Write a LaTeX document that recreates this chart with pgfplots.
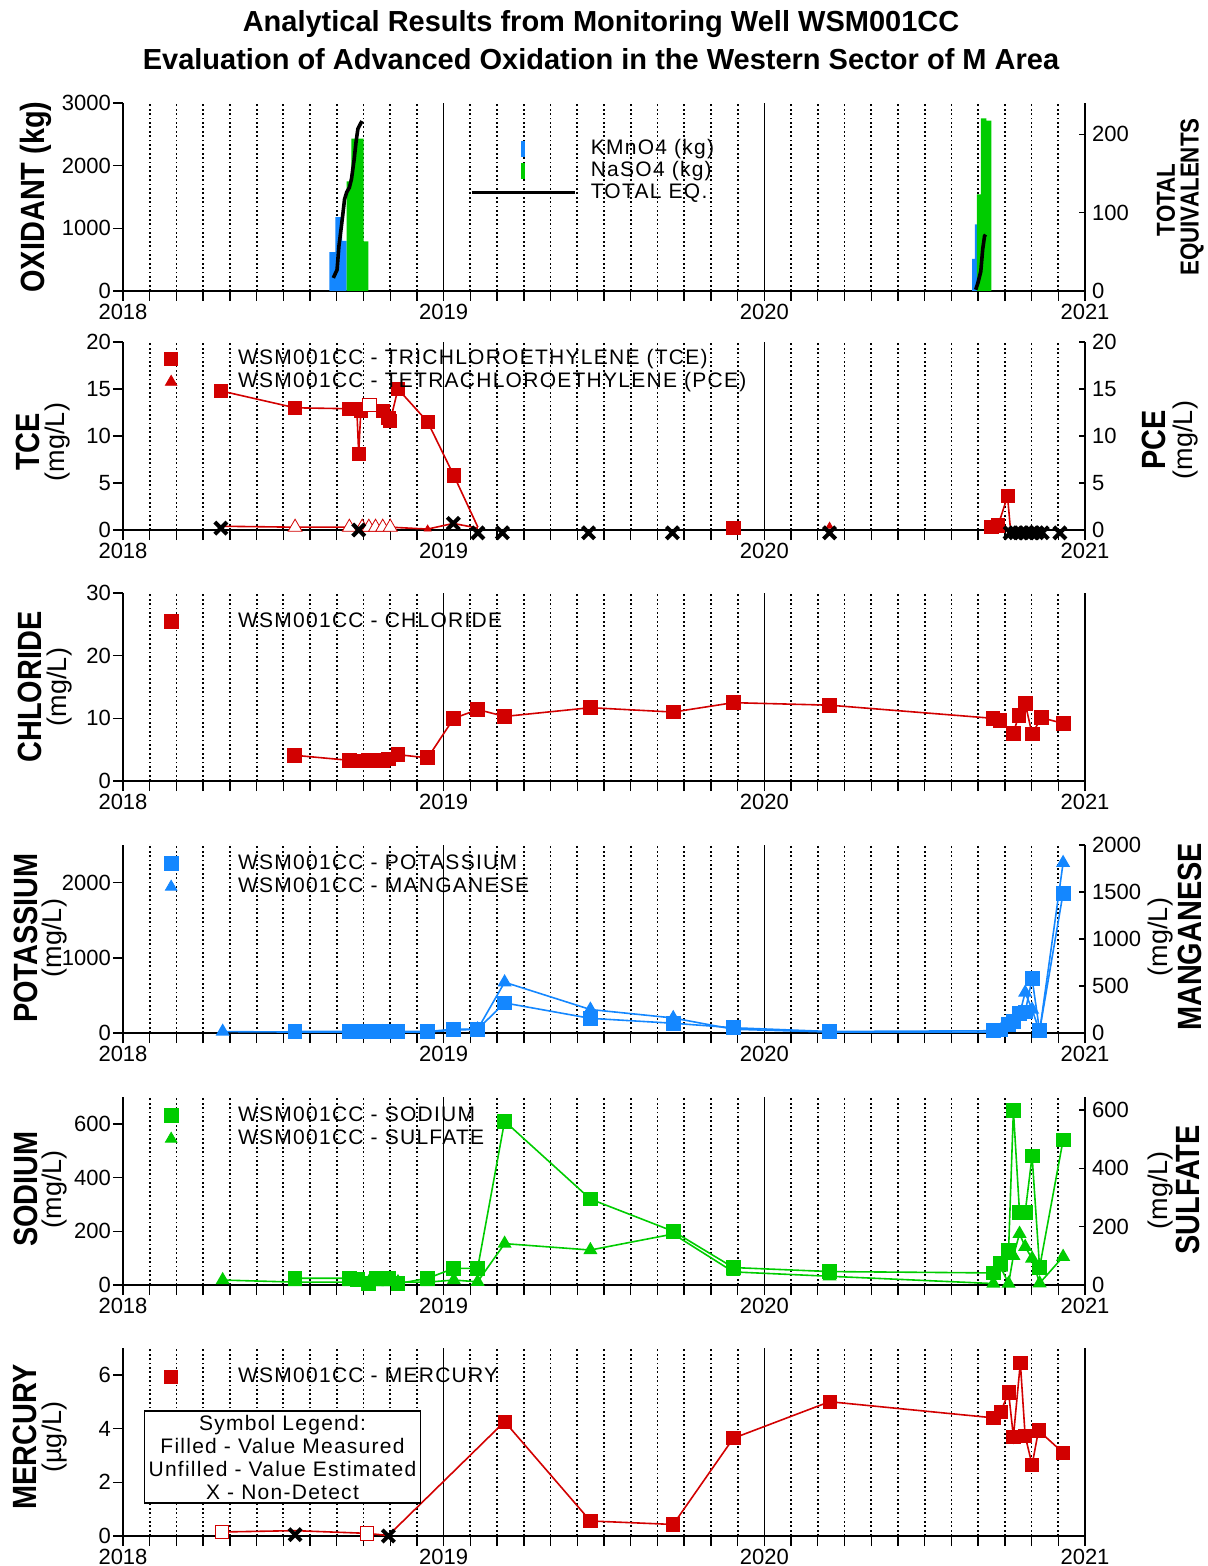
\documentclass[border=0pt]{standalone}
\usepackage{fontspec}
\setmainfont{Liberation Sans}
\newfontfamily\legfont[LetterSpace=6]{Liberation Sans}
\usepackage{graphicx}
\usepackage{pgfplots}
\pgfplotsset{compat=1.18}
\definecolor{cred}{RGB}{210,0,0}
\definecolor{cblue}{RGB}{20,135,255}
\definecolor{cgreen}{RGB}{0,204,0}
\newcommand{\biglab}[1]{\scalebox{0.86}[1]{\fontsize{16.8}{18}\selectfont\bfseries #1}}
\newcommand{\unitlab}[1]{{\fontsize{13.5}{15}\selectfont #1}}
\newcommand{\midlab}[1]{\scalebox{0.86}[1]{\fontsize{13}{14}\selectfont\bfseries #1}}

\pgfplotsset{
  pbase/.style={
    scale only axis, width=481pt, height=94pt, anchor=south west,
    xmin=0, xmax=36, clip=false,
    axis x line*=bottom, axis y line*=left,
    xtick={0,12,24,36}, xticklabels={2018,2019,2020,2021},
    minor xtick={1,...,11,13,14,...,23,25,26,...,35},
    xmajorgrids, xminorgrids,
    major grid style={black, line width=0.6pt},
    minor grid style={black, line width=0.9pt, dash pattern=on 0.9pt off 1.3pt},
    tick align=outside, major tick length=5pt, minor tick length=5pt,
    every tick/.style={black, line width=0.7pt},
    axis line style={black, line width=0.8pt},
    tick label style={font=\fontsize{11}{12}\selectfont},
    xticklabel style={yshift=2pt},
    yticklabel style={xshift=2.5pt},
    /pgf/number format/assume math mode=true,
    /pgf/number format/1000 sep={},
    scaled y ticks=false,
    legend cell align=left,
    legend style={draw=none, fill=none, inner sep=0pt, outer sep=0pt, column sep=0pt, row sep=0pt,
      font=\legfont\fontsize{10.5}{12}\selectfont,
      nodes={inner sep=0.5pt, text height=8pt, text depth=2.5pt}},
    legend image code/.code={\draw[##1] plot[only marks] coordinates {(0pt,0pt)}; \path[draw=none,fill=none] (0pt,0pt) -- (33pt,0pt);},
  },
  pright/.style={
    scale only axis, width=481pt, height=94pt, anchor=south west,
    xmin=0, xmax=36, clip=false,
    axis x line=none, axis y line*=right,
    tick align=inside, major tick length=3pt,
    every tick/.style={black, line width=0.7pt},
    axis line style={black, line width=0.8pt},
    tick label style={font=\fontsize{11}{12}\selectfont},
    /pgf/number format/assume math mode=true,
    /pgf/number format/1000 sep={},
    scaled y ticks=false,
  },
  totleg/.style={legend image code/.code={\draw[black,line width=1.8pt] (0pt,0pt) -- (51.5pt,0pt); \path[draw=none,fill=none] (0pt,0pt) -- (59pt,0pt);}},
  bluleg/.style={legend image code/.code={\fill[cblue] (24.5pt,-4pt) rectangle (26.5pt,4pt);}},
  grnleg/.style={legend image code/.code={\fill[cgreen] (24.5pt,-4pt) rectangle (26.5pt,4pt);}},
  ln/.style={line width=0.8pt},
  sq/.style={only marks, mark=square*, mark size=3.3pt},
  hsq/.style={only marks, mark=square*, mark size=3.3pt, mark options={fill=white}},
  tri/.style={only marks, mark=triangle*, mark size=3.3pt},
  htri/.style={only marks, mark=triangle*, mark size=4pt, mark options={fill=white}},
  nd/.style={only marks, mark=x, black, mark size=4.3pt, mark options={line width=2pt}},
}

\begin{document}
\begin{tikzpicture}
\path[use as bounding box] (0,0) rectangle (603.5pt,-783pt);

% ---------------- Panel 1: oxidant ----------------
\begin{axis}[pbase, at={(61.5pt,-145.5pt)}, ymin=0, ymax=3000, ytick={0,1000,2000,3000},
  legend style={at={(rel axis cs:0.3607,0.819)}, anchor=north west, row sep=-0.5pt}]
\addplot[const plot, fill=cblue, draw=none, bluleg] coordinates {(7.72,0)(7.72,620)(7.95,1180)(8.2,800)(8.37,800)(8.37,0)};
\addlegendentry{KMnO4 (kg)}
\addplot[const plot, fill=cgreen, draw=none, grnleg] coordinates {(8.37,0)(8.37,1750)(8.55,2430)(9.0,790)(9.18,790)(9.18,0)};
\addlegendentry{NaSO4 (kg)}
\addlegendimage{totleg}
\addlegendentry{TOTAL EQ.}
\addplot[const plot, fill=cblue, draw=none, forget plot] coordinates {(31.78,0)(31.78,512)(31.88,1062)(31.95,1062)(31.95,0)};
\addplot[const plot, fill=cgreen, draw=none, forget plot] coordinates {(31.95,0)(31.95,1543)(32.10,2755)(32.31,2720)(32.50,2720)(32.50,0)};
\end{axis}
\begin{axis}[pright, at={(61.5pt,-145.5pt)}, ymin=0, ymax=240, ytick={0,100,200}]
\addplot[black, line width=1.8pt] coordinates {(7.87,16.7)(8.01,27)(8.08,57)(8.22,96)(8.29,117)(8.37,126)(8.47,132)(8.55,143)(8.65,168)(8.72,190)(8.79,207)(8.94,217)};
\addplot[black, line width=1.8pt] coordinates {(31.91,1.7)(31.99,10)(32.10,25)(32.17,53)(32.24,70)(32.28,72)};
\end{axis}

% ---------------- Panel 2: TCE / PCE ----------------
\begin{axis}[pbase, at={(61.5pt,-265pt)}, ymin=0, ymax=20, ytick={0,5,...,20},
  legend style={at={(rel axis cs:0.0432,0.971)}, anchor=north west}]
\addplot[cred, ln, forget plot] coordinates {(3.66,14.8)(6.44,13.0)(8.47,12.9)(8.75,12.9)(8.82,8.1)(8.9,12.7)(9.22,13.3)(9.72,12.7)(9.93,11.9)(10.0,11.6)(10.29,15.0)(11.40,11.5)(12.38,5.8)(13.28,0.3)};
\addplot[cred, ln, forget plot] coordinates {(32.5,0.3)(32.75,0.5)(33.1,3.6)(33.2,0.4)};
\addplot[cred, ln, forget plot] coordinates {(3.66,0.4)(6.44,0.3)(8.47,0.3)(8.79,0.1)(8.95,0.3)(9.2,0.3)(9.45,0.3)(9.72,0.3)(10.0,0.3)(11.4,0.1)(12.36,0.7)(13.28,0.2)};
\addplot[cred, sq, forget plot] coordinates {(3.66,14.8)(6.44,13.0)(8.47,12.9)(8.75,12.9)(8.82,8.1)(8.9,12.7)(9.72,12.7)(9.93,11.9)(10.0,11.6)(10.29,15.0)(11.40,11.5)(12.38,5.8)(22.84,0.2)(32.5,0.3)(32.75,0.5)(33.1,3.6)};
\addplot[cred, hsq, forget plot] coordinates {(9.22,13.3)};
\addplot[cred, htri, forget plot] coordinates {(6.44,0.3)(8.47,0.3)(8.95,0.3)(9.2,0.3)(9.45,0.3)(9.72,0.3)(10.0,0.3)};
\addplot[cred, tri, mark size=2pt, forget plot] coordinates {(11.4,0.1)(26.44,0.4)};
\addplot[nd, forget plot] coordinates {(3.66,0.2)(8.82,0.0)(12.36,0.7)(13.28,-0.3)(14.2,-0.3)(17.42,-0.3)(20.56,-0.3)(26.44,-0.3)(33.2,-0.3)(33.4,-0.3)(33.6,-0.3)(33.8,-0.3)(34.0,-0.3)(34.2,-0.3)(34.4,-0.3)(35.06,-0.3)};
\addlegendimage{cred, mark=square*, mark size=3.3pt}
\addlegendentry{WSM001CC - TRICHLOROETHYLENE (TCE)}
\addlegendimage{cred, mark=triangle*, mark size=3.3pt}
\addlegendentry{WSM001CC - TETRACHLOROETHYLENE (PCE)}
\end{axis}
\begin{axis}[pright, at={(61.5pt,-265pt)}, ymin=0, ymax=20, ytick={0,5,...,20}]
\end{axis}

% ---------------- Panel 3: chloride ----------------
\begin{axis}[pbase, at={(61.5pt,-390.5pt)}, ymin=0, ymax=30, ytick={0,10,20,30},
  legend style={at={(rel axis cs:0.0432,0.909)}, anchor=north west}]
\addplot[cred, ln, mark=square*, mark size=3.3pt] coordinates {(6.43,4.1)(8.47,3.3)(8.79,3.2)(9.2,3.3)(9.5,3.2)(9.72,3.3)(9.93,3.5)(10.29,4.2)(11.40,3.7)(12.38,10.0)(13.28,11.4)(14.28,10.3)(17.49,11.7)(20.59,11.0)(22.84,12.5)(26.44,12.1)(32.56,10.0)(32.82,9.6)(33.31,7.6)(33.53,10.5)(33.76,12.4)(34.02,7.5)(34.36,10.1)(35.18,9.2)};
\addlegendentry{WSM001CC - CHLORIDE}
\end{axis}

% ---------------- Panel 4: potassium / manganese ----------------
\begin{axis}[pbase, at={(61.5pt,-516.5pt)}, ymin=0, ymax=2500, ytick={0,1000,2000},
  legend style={at={(rel axis cs:0.0432,0.961)}, anchor=north west}]
\addplot[cblue, ln, mark=square*, mark size=3.3pt] coordinates {(6.44,20)(8.47,20)(8.79,20)(9.2,20)(9.5,20)(9.72,20)(9.93,20)(10.29,20)(11.40,20)(12.38,50)(13.27,50)(14.28,400)(17.49,195)(20.59,130)(22.84,70)(26.44,20)(32.57,30)(32.85,40)(33.14,110)(33.32,150)(33.55,260)(33.76,280)(34.02,720)(34.3,30)(35.18,1860)};
\addlegendentry{WSM001CC - POTASSIUM}
\addlegendimage{cblue, mark=triangle*, mark size=3.3pt}
\addlegendentry{WSM001CC - MANGANESE}
\end{axis}
\begin{axis}[pright, at={(61.5pt,-516.5pt)}, ymin=0, ymax=2000, ytick={0,500,...,2000}]
\addplot[cblue, ln, mark=triangle*, mark size=3.3pt] coordinates {(3.73,15)(6.44,10)(8.47,10)(8.79,10)(9.2,10)(9.5,10)(9.72,10)(9.93,10)(10.29,10)(11.40,10)(12.38,30)(13.27,40)(14.28,540)(17.49,250)(20.59,160)(22.84,40)(26.44,10)(32.57,10)(32.85,30)(33.14,80)(33.32,120)(33.55,200)(33.76,430)(34.02,250)(34.3,15)(35.18,1810)};
\end{axis}

% ---------------- Panel 5: sodium / sulfate ----------------
\begin{axis}[pbase, at={(61.5pt,-642.5pt)}, ymin=0, ymax=700, ytick={0,200,400,600},
  legend style={at={(rel axis cs:0.0432,0.961)}, anchor=north west}]
\addplot[cgreen, ln, mark=square*, mark size=3.3pt] coordinates {(6.44,25)(8.47,25)(8.79,20)(9.2,5)(9.5,25)(9.72,25)(9.93,25)(10.29,5)(11.40,25)(12.38,62)(13.27,62)(14.28,610)(17.49,320)(20.59,200)(22.84,65)(26.44,50)(32.57,45)(32.85,80)(33.14,130)(33.32,650)(33.55,270)(33.76,270)(34.02,480)(34.3,65)(35.18,540)};
\addlegendentry{WSM001CC - SODIUM}
\addlegendimage{cgreen, mark=triangle*, mark size=3.3pt}
\addlegendentry{WSM001CC - SULFATE}
\end{axis}
\begin{axis}[pright, at={(61.5pt,-642.5pt)}, ymin=0, ymax=645, ytick={0,200,400,600}]
\addplot[cgreen, ln, mark=triangle*, mark size=3.3pt] coordinates {(3.73,17)(6.44,10)(8.47,10)(8.79,10)(9.2,10)(9.5,10)(9.72,10)(9.93,10)(10.29,10)(11.40,10)(12.38,17)(13.27,11)(14.28,142)(17.49,120)(20.59,175)(22.84,45)(26.44,30)(32.57,5)(32.85,60)(33.14,5)(33.32,100)(33.55,176)(33.76,131)(34.02,91)(34.3,6)(35.18,97)};
\end{axis}

% ---------------- Panel 6: mercury ----------------
\begin{axis}[pbase, at={(61.5pt,-768pt)}, ymin=0, ymax=7, ytick={0,2,4,6},
  legend style={at={(rel axis cs:0.0432,0.909)}, anchor=north west}]
\addplot[cred, ln, forget plot] coordinates {(3.70,0.15)(6.44,0.2)(9.12,0.1)(9.93,0.02)(14.28,4.26)(17.49,0.56)(20.59,0.43)(22.84,3.64)(26.44,5.0)(32.57,4.4)(32.85,4.63)(33.14,5.35)(33.32,3.7)(33.58,6.45)(33.76,3.73)(34.02,2.65)(34.26,3.93)(35.18,3.1)};
\addplot[cred, sq, forget plot] coordinates {(14.28,4.26)(17.49,0.56)(20.59,0.43)(22.84,3.64)(26.44,5.0)(32.57,4.4)(32.85,4.63)(33.14,5.35)(33.32,3.7)(33.58,6.45)(33.76,3.73)(34.02,2.65)(34.26,3.93)(35.18,3.1)};
\addplot[cred, hsq, forget plot] coordinates {(3.70,0.15)(9.12,0.1)};
\addplot[nd, forget plot] coordinates {(6.44,0.05)(9.93,0.0)};
\addlegendimage{cred, mark=square*, mark size=3.3pt}
\addlegendentry{WSM001CC - MERCURY}
\end{axis}

% ---------------- titles and labels ----------------
\node[font=\fontsize{14.5}{15}\selectfont\bfseries] at (300.5pt,-12pt) {Analytical Results from Monitoring Well WSM001CC};
\node[font=\fontsize{14.5}{15}\selectfont\bfseries] at (300.5pt,-29.5pt) {Evaluation of Advanced Oxidation in the Western Sector of M Area};

\node[rotate=90] at (18pt,-98.5pt) {\biglab{OXIDANT (kg)}};
\node[rotate=90] at (583pt,-100pt) {\midlab{TOTAL}};
\node[rotate=90] at (596pt,-98.5pt) {\midlab{EQUIVALENTS}};

\node[rotate=90] at (14pt,-221pt) {\biglab{TCE}};
\node[rotate=90] at (29pt,-221pt) {\unitlab{(mg/L)}};
\node[rotate=90] at (577pt,-220pt) {\biglab{PCE}};
\node[rotate=90] at (592.5pt,-220pt) {\unitlab{(mg/L)}};

\node[rotate=90] at (15pt,-343.5pt) {\biglab{CHLORIDE}};
\node[rotate=90] at (30pt,-343.5pt) {\unitlab{(mg/L)}};

\node[rotate=90] at (13pt,-469pt) {\biglab{POTASSIUM}};
\node[rotate=90] at (27.5pt,-469pt) {\unitlab{(mg/L)}};
\node[rotate=90] at (580pt,-468.5pt) {\unitlab{(mg/L)}};
\node[rotate=90] at (595pt,-468.5pt) {\biglab{MANGANESE}};

\node[rotate=90] at (13pt,-594.5pt) {\biglab{SODIUM}};
\node[rotate=90] at (27.5pt,-594.5pt) {\unitlab{(mg/L)}};
\node[rotate=90] at (580pt,-595pt) {\unitlab{(mg/L)}};
\node[rotate=90] at (594pt,-595pt) {\biglab{SULFATE}};

\node[rotate=90] at (12.5pt,-718.5pt) {\biglab{MERCURY}};
\node[rotate=90] at (27.5pt,-718.5pt) {\unitlab{(µg/L)}};

\node[draw=black, line width=0.8pt, fill=white, align=center, inner sep=2pt,
  minimum width=137.5pt, minimum height=46pt,
  font=\legfont\fontsize{10.5}{11.5}\selectfont] at (141.25pt,-728.5pt)
  {Symbol Legend:\\Filled - Value Measured\\Unfilled - Value Estimated\\X - Non-Detect};
\end{tikzpicture}
\end{document}
